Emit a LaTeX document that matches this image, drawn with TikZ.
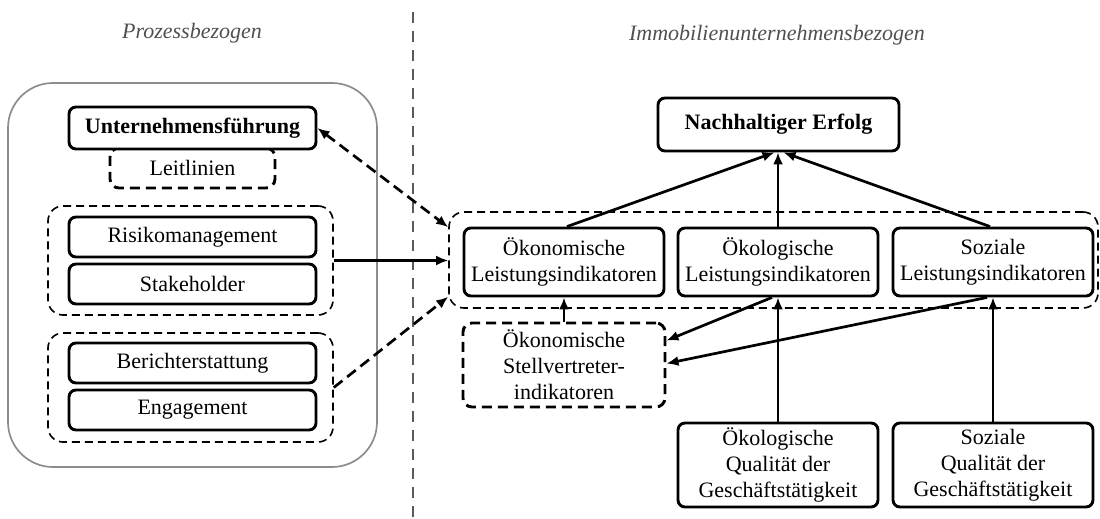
\documentclass[tikz,border=0pt]{standalone}
\usepackage{fontspec}
\setmainfont{Liberation Serif}
\usetikzlibrary{arrows.meta,calc}
\definecolor{hdrgray}{RGB}{80,80,80}
\definecolor{divgray}{RGB}{90,90,90}
\definecolor{framegray}{RGB}{140,140,140}
\begin{document}
\begin{tikzpicture}[x=1pt,y=-1pt,
  txt/.style={font=\fontsize{22}{26}\selectfont, align=center, inner sep=0pt},
  solidbox/.style={txt, draw, line width=2.9pt, rounded corners=7pt, fill=white},
  dashbox/.style={txt, draw, line width=2.9pt, rounded corners=9pt, dash pattern=on 10pt off 6pt, fill=white},
  groupbox/.style={draw, line width=1.6pt, rounded corners=15pt, dash pattern=on 8pt off 5pt, inner sep=0pt},
  outerbox/.style={draw=framegray, line width=1.7pt, rounded corners=45pt, inner sep=0pt},
  header/.style={font=\fontsize{22}{26}\selectfont\itshape, text=hdrgray},
  divider/.style={draw=divgray, line width=2.2pt, dash pattern=on 11pt off 8pt},
  arr/.style={line width=2.7pt, -{Latex[length=12pt,width=10pt]}},
  darr/.style={arr, dash pattern=on 11pt off 6pt},
  dbiarr/.style={line width=2.7pt, dash pattern=on 11pt off 6pt, {Latex[length=12pt,width=10pt]}-{Latex[length=12pt,width=10pt]}}
]
\useasboundingbox (0,0) rectangle (1100,519);

% headings and separator
\node[header] (hproc) at (192,33) {Prozessbezogen};
\node[header] (himmo) at (777,35) {Immobilienunternehmensbezogen};
\coordinate (divtop) at (413,12);
\coordinate (divbot) at (413,519);
\draw[divider] (divtop) -- (divbot);

% process-related block
\node[outerbox, minimum width=369pt, minimum height=384pt] (proc) at (192.5,275) {};
\node[dashbox, minimum width=165pt, minimum height=40pt] (leit) at (192.5,168) {Leitlinien};
\node[solidbox, minimum width=247pt, minimum height=42pt] (uf) at (192.5,128) {\bfseries Unternehmensführung};

\node[groupbox, minimum width=285pt, minimum height=109pt] (g1) at (190.5,260.5) {};
\node[solidbox, minimum width=247pt, minimum height=40pt] (risk) at (192.5,237) {Risikomanagement};
\node[solidbox, minimum width=247pt, minimum height=40pt] (stake) at (192.5,284) {Stakeholder};

\node[groupbox, minimum width=285pt, minimum height=109pt] (g2) at (190.5,387.5) {};
\node[solidbox, minimum width=247pt, minimum height=40pt] (ber) at (192.5,363) {Berichterstattung};
\node[solidbox, minimum width=247pt, minimum height=40pt] (eng) at (192.5,410) {Engagement};

% company-related block
\node[solidbox, minimum width=241pt, minimum height=53pt] (ne) at (778.5,124.5) {\bfseries Nachhaltiger Erfolg};

\node[groupbox, minimum width=649pt, minimum height=96pt] (bg) at (773.5,260) {};
\node[solidbox, minimum width=200pt, minimum height=68pt] (oekonli) at (564,262) {Ökonomische\\Leistungsindikatoren};
\node[solidbox, minimum width=200pt, minimum height=68pt] (oekolli) at (778,262) {Ökologische\\Leistungsindikatoren};
\node[solidbox, minimum width=200pt, minimum height=68pt] (sozli) at (993,262) {Soziale\\Leistungsindikatoren};

\node[dashbox, minimum width=202pt, minimum height=84pt] (stell) at (564,365) {Ökonomische\\Stellvertreter-\\indikatoren};
\node[solidbox, minimum width=200pt, minimum height=84pt] (oekolq) at (778,465) {Ökologische\\Qualität der\\Geschäftstätigkeit};
\node[solidbox, minimum width=200pt, minimum height=84pt] (sozq) at (993,465) {Soziale\\Qualität der\\Geschäftstätigkeit};

% links between the two sides
\draw[dbiarr] (uf.east) -- ($(bg.north west)+(0,16)$);
\draw[arr] (g1.east) -- (g1.east -| bg.west);
\draw[darr] (g2.east) -- ($(bg.south west)+(0,-12)$);

% indicator hierarchy
\draw[arr] ($(oekonli.north)+(3,0)$) -- ($(ne.south)+(-4,0)$);
\draw[arr] (oekolli.north) -- (oekolli.north |- ne.south);
\draw[arr] ($(sozli.north)+(-3,0)$) -- ($(ne.south)+(5,0)$);

\draw[arr] (stell.north) -- (oekonli.south);
\draw[arr] ($(oekolli.south)+(-6,0)$) -- ($(stell.north east)+(0,19)$);
\draw[arr] ($(sozli.south)+(-6,0)$) -- ($(stell.north east)+(0,42)$);

\draw[arr] (oekolq.north) -- (oekolli.south);
\draw[arr] (sozq.north) -- (sozli.south);
\end{tikzpicture}
\end{document}
